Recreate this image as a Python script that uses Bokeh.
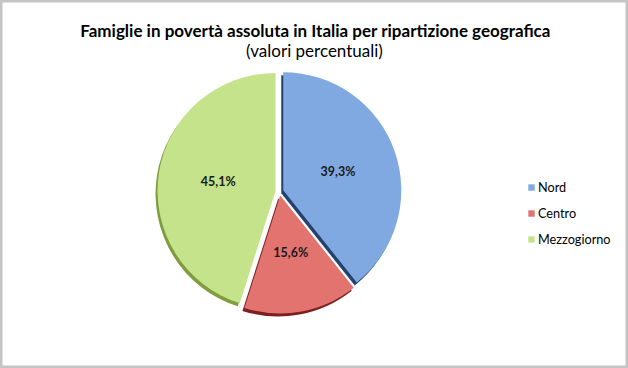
import math
from bokeh.plotting import figure
from bokeh.models import Range1d, Label, Legend, LegendItem, ColumnDataSource
from bokeh.embed import file_html
from bokeh.resources import INLINE

# ---- data ----
categories = ["Nord", "Centro", "Mezzogiorno"]
values = [39.3, 15.6, 45.1]
labels = ["39,3%", "15,6%", "45,1%"]
title_text = "Famiglie in povertà assoluta in Italia per ripartizione geografica"
subtitle_text = "(valori percentuali)"

# ---- styles ----
colors = ["#80a9e2", "#e3736e", "#c5e38a"]
shadow_colors = ["#23426e", "#7d1f1f", "#7f9d3e"]
W, H = 628, 368
cx, cy = 279, H - 191      # pie centre (data units == pixels)
R = 118
explode = 4
label_r = 58
font = "Lato"

p = figure(width=W, height=H, x_range=Range1d(0, W), y_range=Range1d(0, H),
           output_backend="svg", toolbar_location=None, min_border=0,
           background_fill_color="white", border_fill_color="white")
p.axis.visible = False
p.grid.visible = False
p.outline_line_color = "#c4c4c4"
p.outline_line_width = 4

total = sum(values)
xs, ys, starts, ends, lx, ly = [], [], [], [], [], []
cum = 0.0
for v in values:
    a0 = cum / total * 2 * math.pi          # clockwise from 12 o'clock
    cum += v
    a1 = cum / total * 2 * math.pi
    mid = (a0 + a1) / 2
    ox = cx + explode * math.sin(mid)
    oy = cy + explode * math.cos(mid)
    xs.append(ox)
    ys.append(oy)
    starts.append(math.pi / 2 - a1)
    ends.append(math.pi / 2 - a0)
    lx.append(ox + label_r * math.sin(mid))
    ly.append(oy + label_r * math.cos(mid))

src = ColumnDataSource(dict(x=xs, y=ys, sx=[x - 2 for x in xs], sy=[y - 3 for y in ys],
                            start=starts, end=ends, color=colors, shadow=shadow_colors,
                            cat=categories, lx=lx, ly=ly, lab=labels))

p.wedge(x="sx", y="sy", radius=R, start_angle="start", end_angle="end",
        fill_color="shadow", line_color=None, source=src)
renderers = []
for i in range(len(values)):
    r = p.wedge(x=xs[i], y=ys[i], radius=R, start_angle=starts[i], end_angle=ends[i],
                fill_color=colors[i], line_color=None)
    renderers.append(r)

p.text(x="lx", y="ly", text="lab", source=src, text_align="center", text_baseline="middle",
       text_font_size="12.5px", text_font_style="bold", text_color="#1a1a1a",
       text_font={"value": font})

p.add_layout(Label(x=W / 2 + 1, y=H - 30, text=title_text, text_align="center",
                   text_baseline="middle", text_font=font, text_font_size="17px",
                   text_font_style="bold", text_color="black"))
p.add_layout(Label(x=W / 2, y=H - 50, text=subtitle_text, text_align="center",
                   text_baseline="middle", text_font=font, text_font_size="17px",
                   text_color="black"))

legend = Legend(items=[LegendItem(label=c, renderers=[r]) for c, r in zip(categories, renderers)],
                location=(527, 119), orientation="vertical",
                glyph_width=8, glyph_height=8, label_standoff=3, label_height=20,
                spacing=6, padding=0, margin=0, border_line_color=None,
                background_fill_alpha=0, label_text_font=font, label_text_font_size="12.7px",
                label_text_color="black")
p.add_layout(legend)

open("out.html", "w").write(file_html(p, INLINE))
